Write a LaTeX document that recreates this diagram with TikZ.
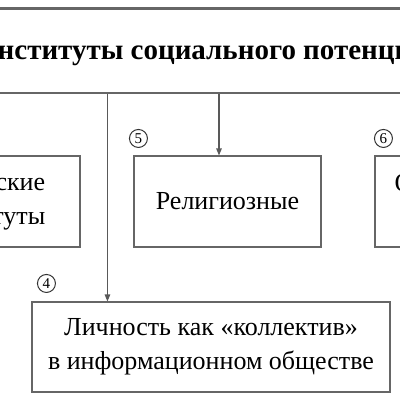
\documentclass[tikz,border=0pt]{standalone}
\usepackage{fontspec}
\setmainfont{Liberation Serif}
\usetikzlibrary{arrows.meta, positioning, calc}
\tikzset{
  box/.style={draw=black!60, line width=1.1pt, minimum height=91pt, minimum width=187pt,
    align=center, font=\fontsize{26}{34}\selectfont},
  num/.style={draw=black!80, circle, line width=1pt, inner sep=0pt, minimum size=18pt,
    font=\fontsize{15}{15}\selectfont},
  arr/.style={-{Triangle[length=7pt, width=5.5pt]}, line width=1.1pt, draw=black!65},
}

\begin{document}
\begin{tikzpicture}[x=1pt, y=-1pt]
    \useasboundingbox (0,0) rectangle (400,400);
    \clip (0,0) rectangle (400,400);
    \node[box, minimum width=560pt, minimum height=84pt, text height=24pt, font=\fontsize{29}{32}\bfseries] (title) at (216,51) {Институты социального потенциала};
    \draw[black!60, line width=2pt] (title.north west) -- (title.north east);
    \node[box] (pol) at (-13.5,201.5) {Этические\\институты};
    \node[box] (rel) at (227.5,201.5) {Религиозные};
    \node[box, minimum width=207pt] (obs) at (478.5,201.5) {Общественные\\организации};
    \node[box, minimum width=358pt, minimum height=90pt] (lich) at (211,347) {Личность как «коллектив»\\в информационном обществе};
    % numbers
    \node[num] (n5) at ($(rel.north west)+(5,-17)$) {5};
    \node[num] (n6) at ($(obs.north west)+(9,-17)$) {6};
    \node[num] (n4) at ($(lich.north west)+(15,-18)$) {4};
    % arrows
    \coordinate (r5) at ($(rel.north)+(-8.5,0)$);
    \coordinate (r4) at ($(lich.north west)+(76,0)$);
    \draw[arr] (title.south -| r5) -- (r5);
    \draw[arr] (title.south -| r4) -- (r4);
\end{tikzpicture}
\end{document}
